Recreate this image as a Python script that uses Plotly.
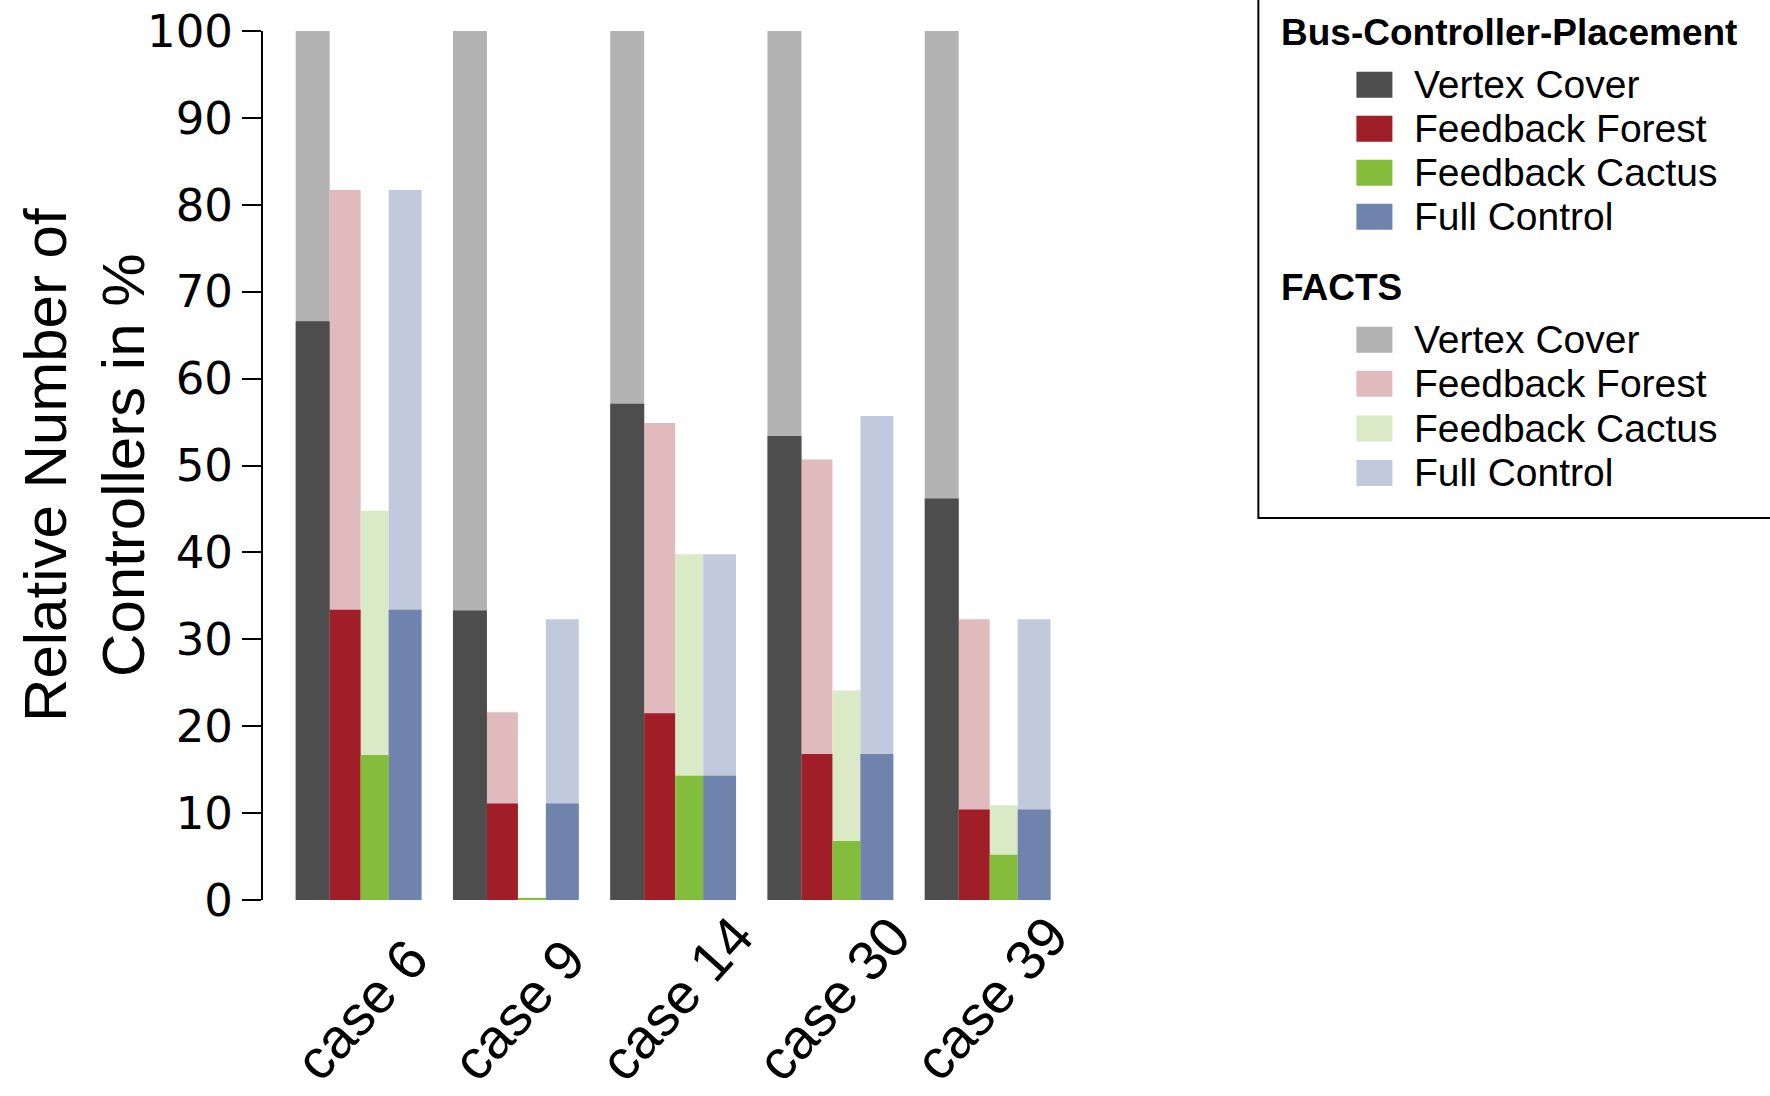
import plotly.graph_objects as go

# ---------------- data ----------------
cases = ["case 6", "case 9", "case 14", "case 30", "case 39"]
methods = ["Vertex Cover", "Feedback Forest", "Feedback Cactus", "Full Control"]

bus_vertex_cover = [66.6, 33.3, 57.1, 53.4, 46.2]
bus_feedback_forest = [33.4, 11.1, 21.5, 16.8, 10.4]
bus_feedback_cactus = [16.7, 0.25, 14.3, 6.8, 5.2]
bus_full_control = [33.4, 11.1, 14.3, 16.8, 10.4]

facts_vertex_cover = [100, 100, 100, 100, 100]
facts_feedback_forest = [81.7, 21.6, 54.9, 50.7, 32.3]
facts_feedback_cactus = [44.8, 0, 39.8, 24.1, 10.9]
facts_full_control = [81.7, 32.3, 39.8, 55.7, 32.3]

y_tick_values = [0, 10, 20, 30, 40, 50, 60, 70, 80, 90, 100]
y_title = "Relative Number of<br>Controllers in %"

# ---------------- style ----------------
bus_colors = ["#4D4D4D", "#A01E28", "#83BD3B", "#7083AD"]
facts_colors = ["#B3B3B3", "#E1BABE", "#DAEAC6", "#C1CADC"]
bar_offsets = [-0.4, -0.184, 0.013, 0.191]
bar_widths = [0.216, 0.197, 0.178, 0.209]
FONT = "Liberation Sans, Arial, Helvetica, sans-serif"
TICK_FONT = "DejaVu Sans, Liberation Sans, sans-serif"

FIG_W, FIG_H = 1770, 1096
PL, PR, PT, PB = 263.0, 1081.7, 31.0, 900.0   # plot area in pixels
X_RANGE = [-0.608, 4.6]


def px_x(p):
    return (p - PL) / (PR - PL)


def px_y(p):
    return (PB - p) / (PB - PT)


xpos = list(range(len(cases)))
bus_series = [bus_vertex_cover, bus_feedback_forest, bus_feedback_cactus, bus_full_control]
facts_series = [facts_vertex_cover, facts_feedback_forest, facts_feedback_cactus, facts_full_control]

fig = go.Figure()
for name, vals, col, off, w in zip(methods, facts_series, facts_colors, bar_offsets, bar_widths):
    fig.add_trace(go.Bar(
        x=xpos, y=vals, name="FACTS " + name, offset=off, width=w,
        marker=dict(color=col, line=dict(width=0)), showlegend=False))
for name, vals, col, off, w in zip(methods, bus_series, bus_colors, bar_offsets, bar_widths):
    fig.add_trace(go.Bar(
        x=xpos, y=vals, name="Bus " + name, offset=off, width=w,
        marker=dict(color=col, line=dict(width=0)), showlegend=False))

annotations = []
# category labels (rotated, centred under each group)
for p, label in zip(xpos, cases):
    annotations.append(dict(text=label, xref="x", yref="paper", x=p, y=px_y(1095),
                            xanchor="center", yanchor="bottom", xshift=3,
                            textangle=-48, showarrow=False,
                            font=dict(family=FONT, size=56, color="black")))
# y axis title
annotations.append(dict(text=y_title, xref="paper", yref="paper",
                        x=px_x(84), y=px_y(465), xanchor="center", yanchor="middle",
                        textangle=-90, showarrow=False,
                        font=dict(family=FONT, size=60, color="black")))

# ---------------- legend (drawn as a boxed key) ----------------
shapes = [dict(type="rect", xref="paper", yref="paper",
               x0=px_x(1258), x1=px_x(1800), y0=px_y(518), y1=px_y(-20),
               line=dict(color="black", width=2), fillcolor="rgba(0,0,0,0)", layer="above")]
groups = [("Bus-Controller-Placement", 31.6, bus_colors, [84.7, 128.7, 172.7, 216.7]),
          ("FACTS", 286.7, facts_colors, [339.8, 383.8, 428.5, 473.0])]
for title, ty, cols, ys in groups:
    annotations.append(dict(text="<b>" + title + "</b>", xref="paper", yref="paper",
                            x=px_x(1279), y=px_y(ty + 1), xanchor="left", yanchor="middle",
                            showarrow=False, font=dict(family=FONT, size=37, color="black")))
    for name, col, yc in zip(methods, cols, ys):
        shapes.append(dict(type="rect", xref="paper", yref="paper",
                           x0=px_x(1356), x1=px_x(1392), y0=px_y(yc + 13), y1=px_y(yc - 13),
                           line=dict(width=0), fillcolor=col, layer="above"))
        annotations.append(dict(text=name, xref="paper", yref="paper",
                                x=px_x(1412), y=px_y(yc), xanchor="left", yanchor="middle",
                                showarrow=False, font=dict(family=FONT, size=39, color="black")))

fig.update_layout(
    width=FIG_W, height=FIG_H,
    margin=dict(l=PL, r=FIG_W - PR, t=PT, b=FIG_H - PB, pad=0, autoexpand=False),
    barmode="overlay",
    plot_bgcolor="white", paper_bgcolor="white",
    font=dict(family=FONT, color="black"),
    shapes=shapes, annotations=annotations,
    showlegend=False,
)
fig.update_xaxes(
    range=X_RANGE, tickmode="array", tickvals=xpos, ticktext=cases,
    showticklabels=False,
    showline=False, showgrid=False, zeroline=False, ticks="", automargin=False,
)
fig.update_yaxes(
    range=[0, 100], tickmode="array", tickvals=y_tick_values,
    ticks="outside", ticklen=19, tickwidth=2, tickcolor="black",
    showline=True, linewidth=2, linecolor="black",
    showgrid=False, zeroline=False, ticklabelstandoff=0,
    tickfont=dict(family=TICK_FONT, size=45, color="black"),
    automargin=False,
)

fig.write_html("out.html", config={"displayModeBar": False},
               post_script="document.body.style.margin='0';")
